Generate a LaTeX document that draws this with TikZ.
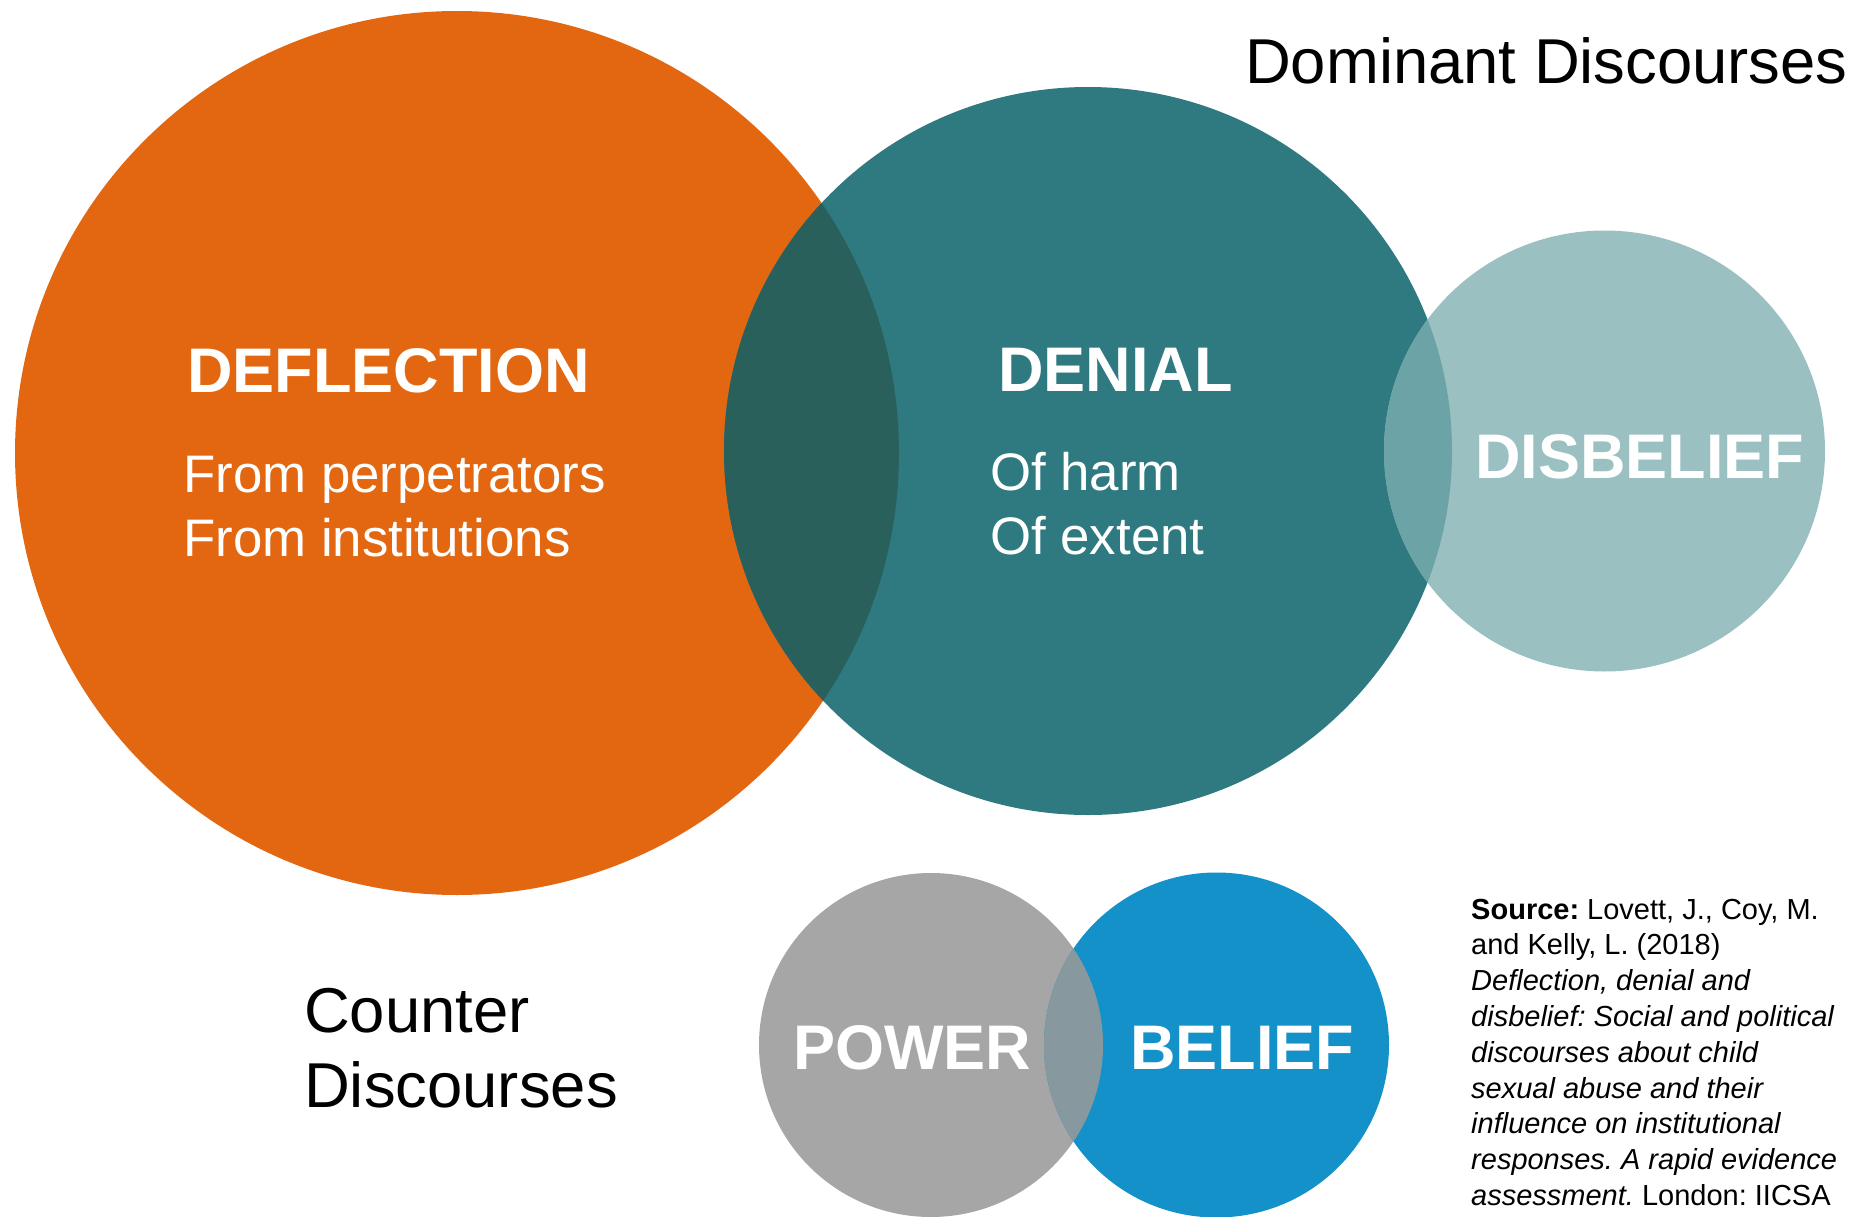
\documentclass[tikz,border=0pt]{standalone}
\usepackage{fontspec}
\setmainfont{Liberation Sans}
\frenchspacing
\definecolor{orng}{RGB}{227,103,16}
\definecolor{tealc}{RGB}{46,122,128}
\definecolor{tealdark}{RGB}{42,96,92}
\definecolor{tealpale}{RGB}{155,192,193}
\definecolor{tealmid}{RGB}{108,163,166}
\definecolor{greyc}{RGB}{166,166,166}
\definecolor{bluec}{RGB}{21,145,201}
\definecolor{greyblue}{RGB}{135,152,158}
\begin{document}
\begin{tikzpicture}[x=1pt,y=-1pt,
  lbl/.style={inner sep=0pt, anchor=base west, text=white},
  bigt/.style={lbl, font=\bfseries\fontsize{63}{63}\selectfont},
  subt/.style={lbl, font=\fontsize{52.8}{52.8}\selectfont},
  headt/.style={inner sep=0pt, anchor=base west, text=black, font=\fontsize{63.4}{63.4}\selectfont},
  srct/.style={inner sep=0pt, anchor=base west, text=black, font=\fontsize{29}{29}\selectfont}]
\useasboundingbox (0,0) rectangle (1860,1217);
% dominant discourses circles
\coordinate (cdef) at (457,453);
\coordinate (cden) at (1088,451);
\coordinate (cdis) at (1604.5,451);
\fill[orng] (cdef) circle[radius=442];
\fill[tealc] (cden) circle[radius=364];
\begin{scope}
  \clip (cdef) circle[radius=442];
  \fill[tealdark] (cden) circle[radius=364];
\end{scope}
\fill[tealpale] (cdis) circle[radius=220.5];
\begin{scope}
  \clip (cden) circle[radius=364];
  \fill[tealmid] (cdis) circle[radius=220.5];
\end{scope}
% counter discourses circles
\coordinate (cpow) at (931,1045);
\coordinate (cbel) at (1216.5,1045);
\fill[greyc] (cpow) circle[radius=172];
\fill[bluec] (cbel) circle[radius=172.5];
\begin{scope}
  \clip (cpow) circle[radius=172];
  \fill[greyblue] (cbel) circle[radius=172.5];
\end{scope}
% labels
\node[bigt] (deflection) at (187,392) {DEFLECTION};
\node[subt] (fromperp) at (183,492) {From perpetrators};
\node[subt] (frominst) at (183,556) {From institutions};
\node[bigt] (denial) at (998,391) {DENIAL};
\node[subt] (ofharm) at (990,490) {Of harm};
\node[subt] (ofextent) at (990,554) {Of extent};
\node[bigt] (disbelief) at (1475,478) {DISBELIEF};
\node[bigt] (power) at (793,1069) {POWER};
\node[bigt] (belief) at (1130,1069) {BELIEF};
\node[headt] (dominant) at (1245,83.5) {Dominant Discourses};
\node[headt] (counter) at (304,1032) {Counter};
\node[headt] (discourses) at (304,1107) {Discourses};
% source
\node[srct] (s1) at (1471,919) {\textbf{Source:} Lovett, J., Coy, M.};
\node[srct] (s2) at (1471,954.8) {and Kelly, L. (2018)};
\node[srct] (s3) at (1471,990.6) {\textit{Deflection, denial and}};
\node[srct] (s4) at (1471,1026.4) {\textit{disbelief: Social and political}};
\node[srct] (s5) at (1471,1062.2) {\textit{discourses about child}};
\node[srct] (s6) at (1471,1098) {\textit{sexual abuse and their}};
\node[srct] (s7) at (1471,1133.8) {\textit{influence on institutional}};
\node[srct] (s8) at (1471,1169.6) {\textit{responses. A rapid evidence}};
\node[srct] (s9) at (1471,1205.4) {\textit{assessment.} London: IICSA};
\end{tikzpicture}
\end{document}
